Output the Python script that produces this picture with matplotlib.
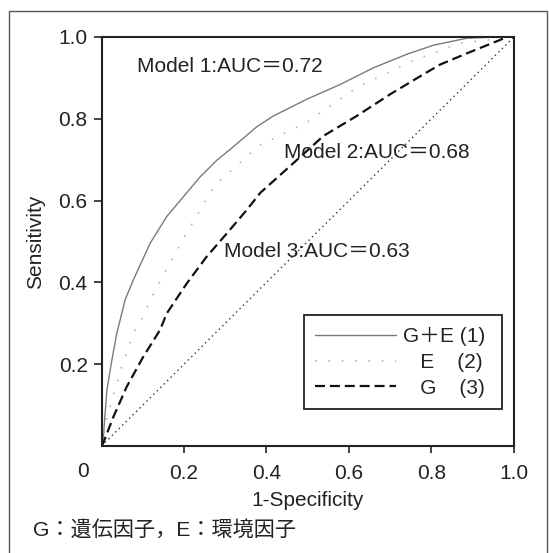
import matplotlib.pyplot as plt
from matplotlib.patches import Rectangle

# ROC curves
m1_x = [0, 0.004, 0.008, 0.013, 0.025, 0.037, 0.045, 0.057, 0.077, 0.118,
        0.158, 0.199, 0.239, 0.28, 0.32, 0.377, 0.417, 0.498, 0.579, 0.66,
        0.741, 0.805, 0.886, 0.95, 1.0]
m1_y = [0, 0.015, 0.072, 0.137, 0.21, 0.276, 0.308, 0.357, 0.406, 0.496,
        0.561, 0.61, 0.658, 0.699, 0.732, 0.781, 0.807, 0.848, 0.884, 0.925,
        0.958, 0.98, 0.997, 1.0, 1.0]

m2_x = [0, 0.013, 0.025, 0.037, 0.049, 0.069, 0.077, 0.098, 0.13, 0.2,
        0.275, 0.383, 0.497, 0.527, 0.62, 0.75, 0.87, 1.0]
m2_y = [0, 0.072, 0.112, 0.153, 0.194, 0.251, 0.276, 0.312, 0.381, 0.51,
        0.638, 0.735, 0.791, 0.812, 0.877, 0.94, 0.985, 1.0]

m3_x = [0, 0.004, 0.029, 0.061, 0.101, 0.142, 0.158, 0.207, 0.255, 0.304,
        0.352, 0.385, 0.458, 0.538, 0.619, 0.7, 0.781, 0.822, 0.886, 0.967,
        0.983]
m3_y = [0, 0.007, 0.072, 0.145, 0.218, 0.284, 0.324, 0.398, 0.463, 0.52,
        0.577, 0.619, 0.685, 0.758, 0.807, 0.86, 0.909, 0.933, 0.96, 0.993,
        1.0]

ref_x = [0, 1]
ref_y = [0, 1]

labels = ["G＋E (1) ", "   E    (2) ", "   G    (3) "]
notes = ["Model 1:AUC＝0.72", "Model 2:AUC＝0.68", "Model 3:AUC＝0.63"]
note_pos = [(0.085, 0.928), (0.442, 0.718), (0.297, 0.476)]
caption = "G：遺伝因子，E：環境因子"

plt.rcParams["font.family"] = ["Liberation Sans", "Noto Sans CJK JP", "DejaVu Sans"]
fs = 15
ink = "#222222"

fig = plt.figure(figsize=(5.49, 5.53), dpi=100)
ax = fig.add_axes([0.185, 0.1935, 0.751, 0.7396])

l1, = ax.plot(m1_x, m1_y, color="#7a7a7a", lw=1.0)
l2, = ax.plot(m2_x, m2_y, color="#b5b5b5", lw=1.2, linestyle=(0, (1, 7)))
l3, = ax.plot(m3_x, m3_y, color="#111111", lw=1.6, linestyle=(0, (4.5, 2.2)))
ax.plot(ref_x, ref_y, color="#333333", lw=1.0, linestyle=(0, (1, 2.5)))

for txt, (x, y) in zip(notes, note_pos):
    ax.text(x, y, txt, fontsize=fs, va="center", ha="left", color=ink)

ax.set_xlim(0, 1)
ax.set_ylim(0, 1)
ax.set_xticks([0.2, 0.4, 0.6, 0.8, 1.0])
ax.set_xticklabels(["0.2", "0.4", "0.6", "0.8", "1.0"])
ax.set_yticks([0.2, 0.4, 0.6, 0.8, 1.0])
ax.set_yticklabels(["0.2", "0.4", "0.6", "0.8", "1.0"])
ax.tick_params(axis="x", direction="out", length=5, width=1.2, pad=8,
               labelsize=fs, colors=ink)
ax.tick_params(axis="y", direction="out", length=6, width=1.2, pad=4,
               labelsize=fs, colors=ink)
ax.text(-0.045, -0.062, "0", transform=ax.transAxes, fontsize=fs,
        ha="center", va="center", color=ink)
for s in ax.spines.values():
    s.set_linewidth(1.5)
    s.set_color(ink)

ax.set_xlabel("1-Specificity", fontsize=fs, labelpad=6, color=ink)
ax.set_ylabel("Sensitivity", fontsize=fs, labelpad=10, color=ink)

leg = ax.legend([l1, l2, l3], labels, loc="lower right",
                bbox_to_anchor=(0.972, 0.09), borderaxespad=0, fontsize=fs,
                handlelength=3.85, handletextpad=0.35, labelspacing=0.33,
                borderpad=0.55, fancybox=False, framealpha=1,
                edgecolor=ink)
leg.get_frame().set_linewidth(1.3)
for t in leg.get_texts():
    t.set_color(ink)

fig.text(33 / 549, 1 - 530 / 553, caption, fontsize=15.2, va="center",
         ha="left", color=ink)

frame = Rectangle((9 / 549, -0.02), 538 / 549, 1 - 10.5 / 553 + 0.02,
                  transform=fig.transFigure, fill=False, lw=1.0,
                  edgecolor="#555555")
fig.patches.append(frame)

fig.savefig("out.png", dpi=100)
